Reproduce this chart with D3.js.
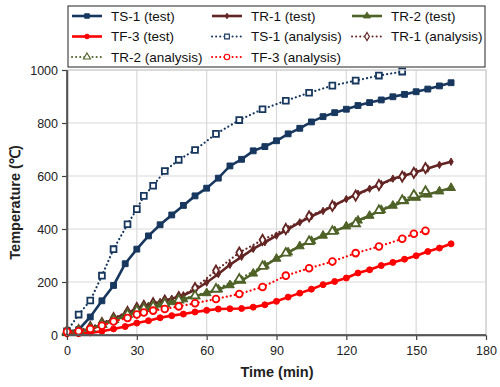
<!DOCTYPE html>
<html>
<head>
<meta charset="utf-8">
<script src="https://cdn.jsdelivr.net/npm/d3@7"></script>
<style>
  body { margin: 0; background: #fff; }
  text { font-family: Arial, "Liberation Sans", sans-serif; }
</style>
</head>
<body>
<div id="Canvas"></div>
<script>
// 試驗的時間 (每5分鐘)
let testTime = [0,5,10,15,20,25,30,35,40,45,50,55,60,65,70,75,80,85,90,95,100,105,110,115,120,125,130,135,140,145,150,155,160,165]
// 分析的時間
let anaTime = [0,5,10,15,20,26,30,33,37,42,48,55,64,74,84,94,104,114,124,134,144,149,154]

let ts1Test = [10,20,68,129,187,269,324,374,416,453,489,525,554,592,638,663,695,711,733,759,780,804,824,839,852,866,877,887,899,908,918,928,940,952]
let tr1Test = [15,15,22,40,60,80,97,110,125,137,150,170,198,230,265,295,325,350,375,400,425,448,468,490,513,533,552,570,590,602,615,628,642,654]
let tr2Test = [12,15,22,38,55,72,88,105,115,124,135,146,158,172,188,205,232,262,288,312,335,355,375,392,410,432,450,472,488,505,518,530,542,555]
let tf3Test = [5,5,8,14,23,32,45,54,65,73,79,87,93,98,99,100,105,114,127,143,158,173,190,202,215,234,246,262,274,286,299,315,328,344]

let ts1Ana = [14,77,130,224,324,418,475,525,563,619,661,698,759,811,852,884,914,941,960,979,994]
let tr1Ana = [15,18,30,45,64,87,102,110,120,130,143,177,243,311,359,400,448,487,526,566,598,612,630]
let tr2Ana = [12,15,25,40,58,78,92,100,108,118,132,148,173,211,259,309,353,391,420,470,508,528,542]
let tf3Ana = [12,14,23,35,51,64,77,85,92,98,108,120,136,155,181,224,252,277,309,334,363,382,393]

let xTicks = [0,30,60,90,120,150,180]
let yTicks = [0,200,400,600,800,1000]

// 系列表 (名稱, 顏色, 資料)
let Series = [
  {name : "TS-1 (test)" , color : "#17375e" , shape : "square" , open : false , time : testTime , vals : ts1Test},
  {name : "TR-1 (test)" , color : "#632523" , shape : "diamond" , open : false , time : testTime , vals : tr1Test},
  {name : "TR-2 (test)" , color : "#4f6228" , shape : "triangle" , open : false , time : testTime , vals : tr2Test},
  {name : "TF-3 (test)" , color : "#ff0000" , shape : "circle" , open : false , time : testTime , vals : tf3Test},
  {name : "TS-1 (analysis)" , color : "#17375e" , shape : "square" , open : true , time : anaTime , vals : ts1Ana},
  {name : "TR-1 (analysis)" , color : "#632523" , shape : "diamond" , open : true , time : anaTime , vals : tr1Ana},
  {name : "TR-2 (analysis)" , color : "#4f6228" , shape : "triangle" , open : true , time : anaTime , vals : tr2Ana},
  {name : "TF-3 (analysis)" , color : "#ff0000" , shape : "circle" , open : true , time : anaTime , vals : tf3Ana}
]

let svg = d3.select("#Canvas")
    .append("svg")
    .attr("width" , 500)
    .attr("height" , 387)

let xScale = d3.scaleLinear()
    .domain([0,180])
    .range([67,486])
let yScale = d3.scaleLinear()
    .domain([0,1000])
    .range([335,70])

// 格線
svg.append("g")
    .selectAll("line")
    .data(xTicks.slice(1))
    .enter()
    .append("line")
    .attr("x1" , d=>xScale(d)).attr("x2" , d=>xScale(d))
    .attr("y1" , yScale(0)).attr("y2" , yScale(1000))
    .style("stroke" , "#d9d9d9").style("stroke-width" , 1.2)
svg.append("g")
    .selectAll("line")
    .data(yTicks.slice(1))
    .enter()
    .append("line")
    .attr("x1" , xScale(0)).attr("x2" , xScale(180))
    .attr("y1" , d=>yScale(d)).attr("y2" , d=>yScale(d))
    .style("stroke" , "#d9d9d9").style("stroke-width" , 1.2)

// 軸
let xAxis = svg.append("g")
    .attr("transform" , "translate(0," + yScale(0) + ")")
    .call(d3.axisBottom(xScale).tickValues(xTicks).tickFormat(d3.format("d")).tickSize(5).tickSizeOuter(0))
let yAxis = svg.append("g")
    .attr("transform" , "translate(" + xScale(0) + ",0)")
    .call(d3.axisLeft(yScale).tickValues(yTicks).tickFormat(d3.format("d")).tickSize(5).tickSizeOuter(0))
;[xAxis , yAxis].forEach(a=>{
    a.selectAll("path").style("stroke" , "#404040").style("stroke-width" , 1.5)
    a.selectAll("line").style("stroke" , "#404040").style("stroke-width" , 1.2)
    a.selectAll("text").style("font-size" , "12.5px").style("fill" , "#222")
        .style("font-family" , "Arial, 'Liberation Sans', sans-serif")
})
xAxis.selectAll("text").attr("dy" , "0.95em")
yAxis.selectAll("text").attr("x" , -9)

svg.append("text")
    .attr("x" , 277).attr("y" , 377)
    .attr("text-anchor" , "middle")
    .style("font-size" , "14.5px").style("font-weight" , "bold").style("fill" , "#222")
    .text("Time (min)")
svg.append("text")
    .attr("transform" , "translate(20," + yScale(500) + ") rotate(-90)")
    .attr("text-anchor" , "middle")
    .style("font-size" , "14.5px").style("font-weight" , "bold").style("fill" , "#222")
    .text("Temperature (℃)")

// 標記的形狀 (open = 分析, 空心)
function markerPath(shape , open){
    if(shape == "square") return d3.symbol(d3.symbolSquare , open ? 34 : 34)()
    if(shape == "diamond") return d3.symbol(d3.symbolDiamond , open ? 30 : 16)()
    if(shape == "triangle") return d3.symbol(d3.symbolTriangle , open ? 34 : 34)()
    return d3.symbol(d3.symbolCircle , open ? 36 : 28)()
}

let line = d3.line()
    .x(d=>xScale(d.t))
    .y(d=>yScale(d.v))

Series.forEach(s=>{
    let pts = s.vals.map((v , i)=>({t : s.time[i] , v : v}))
    let g = svg.append("g")
    let p = g.append("path")
        .datum(pts)
        .attr("d" , line)
        .style("fill" , "none")
        .style("stroke" , s.color)
    if(s.open){
        p.style("stroke-width" , 2.2).style("stroke-dasharray" , "0.1,4").style("stroke-linecap" , "round")
    }else{
        p.style("stroke-width" , 2.6)
    }
    g.selectAll("path.mk")
        .data(pts)
        .enter()
        .append("path")
        .attr("class" , "mk")
        .attr("d" , markerPath(s.shape , s.open))
        .attr("transform" , d=>"translate(" + xScale(d.t) + "," + yScale(d.v) + ")")
        .style("fill" , s.open ? "#fff" : s.color)
        .style("stroke" , s.color)
        .style("stroke-width" , s.open ? 1.8 : 1)
})

// 外框
svg.append("rect")
    .attr("x" , xScale(0)).attr("y" , yScale(1000))
    .attr("width" , xScale(180) - xScale(0)).attr("height" , yScale(0) - yScale(1000))
    .style("fill" , "none").style("stroke" , "#d0d0d0").style("stroke-width" , 1.2)
svg.append("line")
    .attr("x1" , xScale(0)).attr("x2" , xScale(180)).attr("y1" , yScale(0)).attr("y2" , yScale(0))
    .style("stroke" , "#404040").style("stroke-width" , 1.5)
svg.append("line")
    .attr("x1" , xScale(0)).attr("x2" , xScale(0)).attr("y1" , yScale(0)).attr("y2" , yScale(1000))
    .style("stroke" , "#404040").style("stroke-width" , 1.5)

// 圖例
let legend = svg.append("g")
legend.append("rect")
    .attr("x" , 68).attr("y" , 6).attr("width" , 417).attr("height" , 61)
    .style("fill" , "#fff").style("stroke" , "#222").style("stroke-width" , 1)
let colX = [72 , 212 , 352]
let rowY = [16 , 36.5 , 57]
Series.forEach((s , i)=>{
    let cx = colX[i % 3]
    let cy = rowY[Math.floor(i / 3)]
    let item = legend.append("g")
    item.append("line")
        .attr("x1" , cx).attr("x2" , cx + 30).attr("y1" , cy).attr("y2" , cy)
        .style("stroke" , s.color)
        .style("stroke-width" , s.open ? 2 : 2.6)
        .style("stroke-dasharray" , s.open ? "0.1,4" : null)
        .style("stroke-linecap" , s.open ? "round" : "butt")
    item.append("path")
        .attr("d" , markerPath(s.shape , s.open))
        .attr("transform" , "translate(" + (cx + 15) + "," + cy + ") scale(0.8)")
        .style("fill" , s.open ? "#fff" : s.color)
        .style("stroke" , s.color)
        .style("stroke-width" , s.open ? 1.4 : 1)
    item.append("text")
        .attr("x" , cx + 39).attr("y" , cy)
        .attr("dy" , "0.35em")
        .style("font-size" , "13.5px").style("fill" , "#111")
        .text(s.name)
})
</script>
</body>
</html>
